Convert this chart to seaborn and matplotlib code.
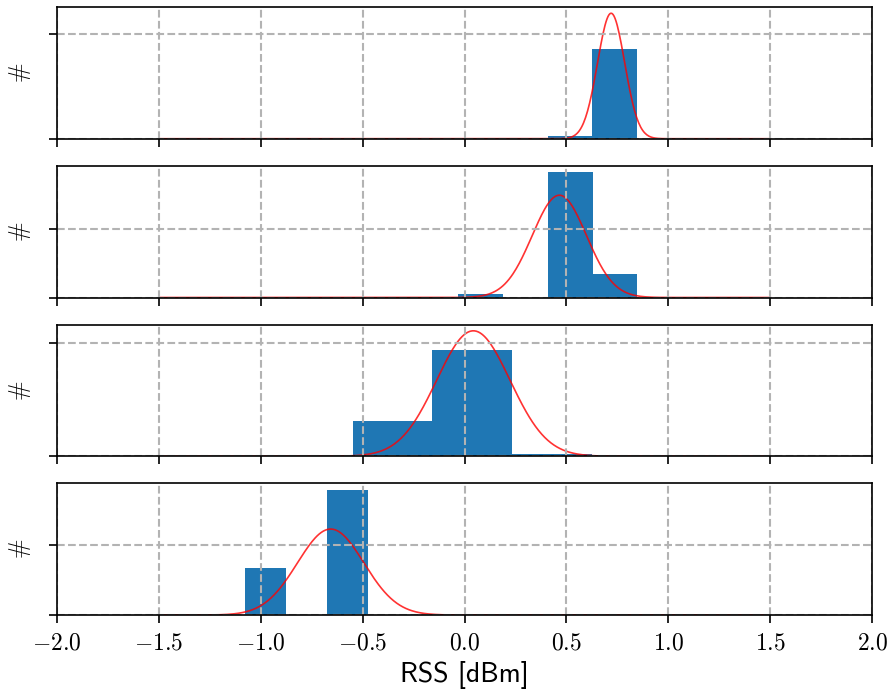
import numpy as np
import pandas as pd
import matplotlib
matplotlib.use("Agg")
import matplotlib.pyplot as plt
import seaborn as sns
from matplotlib.ticker import FuncFormatter

# ---- data ----
edges_1 = [0.411, 0.626, 0.845]
dens_1 = [0.11, 4.31]
mu_1, sigma_1 = 0.719, 0.0665
ytick_1 = 5

edges_2 = [-0.03, 0.19, 0.41, 0.63, 0.845]
dens_2 = [0.117, 0.0, 3.68, 0.70]
mu_2, sigma_2 = 0.465, 0.133
ytick_2 = 2

edges_3 = [-0.546, -0.158, 0.232, 0.624]
dens_3 = [0.616, 1.877, 0.042]
mu_3, sigma_3 = 0.043, 0.180
ytick_3 = 2

edges_4 = [-1.077, -0.876, -0.673, -0.475]
dens_4 = [1.334, 0.0, 3.57]
mu_4, sigma_4 = -0.657, 0.163
ytick_4 = 2

xticks = [-2.0, -1.5, -1.0, -0.5, 0.0, 0.5, 1.0, 1.5, 2.0]
curve_range = (-1.5, 1.5)

panels = [
    (edges_1, dens_1, mu_1, sigma_1, ytick_1),
    (edges_2, dens_2, mu_2, sigma_2, ytick_2),
    (edges_3, dens_3, mu_3, sigma_3, ytick_3),
    (edges_4, dens_4, mu_4, sigma_4, ytick_4),
]

plt.rcParams['mathtext.fontset'] = 'cm'
plt.rcParams['axes.linewidth'] = 1.2

fig, axes = plt.subplots(4, 1, sharex=True, figsize=(8.9, 6.95), dpi=100)
fig.subplots_adjust(left=0.064, right=0.980, top=0.990, bottom=0.115, hspace=0.205)

xs = np.linspace(curve_range[0], curve_range[1], 600)

for ax, (edges, dens, mu, sigma, ytk) in zip(axes, panels):
    e = np.asarray(edges, dtype=float)
    centers = (e[:-1] + e[1:]) / 2
    df = pd.DataFrame({"x": centers, "w": dens})
    sns.histplot(data=df, x="x", weights="w", bins=list(edges), stat="count",
                 color="#1f77b4", alpha=1.0, linewidth=0, ax=ax)
    pdf = np.exp(-0.5 * ((xs - mu) / sigma) ** 2) / (sigma * np.sqrt(2 * np.pi))
    sns.lineplot(x=xs, y=pdf, color="red", alpha=0.8, linewidth=1.2, ax=ax)
    ax.set_xlim(-2, 2)
    ax.set_ylim(bottom=0)
    ax.set_yticks([0, ytk])
    ax.set_yticklabels([])
    ax.set_ylabel(r"$\#$", fontsize=17, labelpad=8)
    ax.set_xlabel("")
    ax.set_axisbelow(False)
    ax.grid(True, color="0.7", linestyle="--", linewidth=1.5)
    ax.tick_params(direction="out", length=6, width=1.2)
    for s in ax.spines.values():
        s.set_color("black")
        s.set_zorder(5)

axes[-1].set_xticks(xticks)
axes[-1].xaxis.set_major_formatter(FuncFormatter(lambda v, p: r"$%.1f$" % v))
axes[-1].tick_params(axis="x", labelsize=17, pad=5)
axes[-1].set_xlabel("RSS [dBm]", fontsize=20, labelpad=5, family="cmss10")

fig.savefig("out.png", dpi=100)
